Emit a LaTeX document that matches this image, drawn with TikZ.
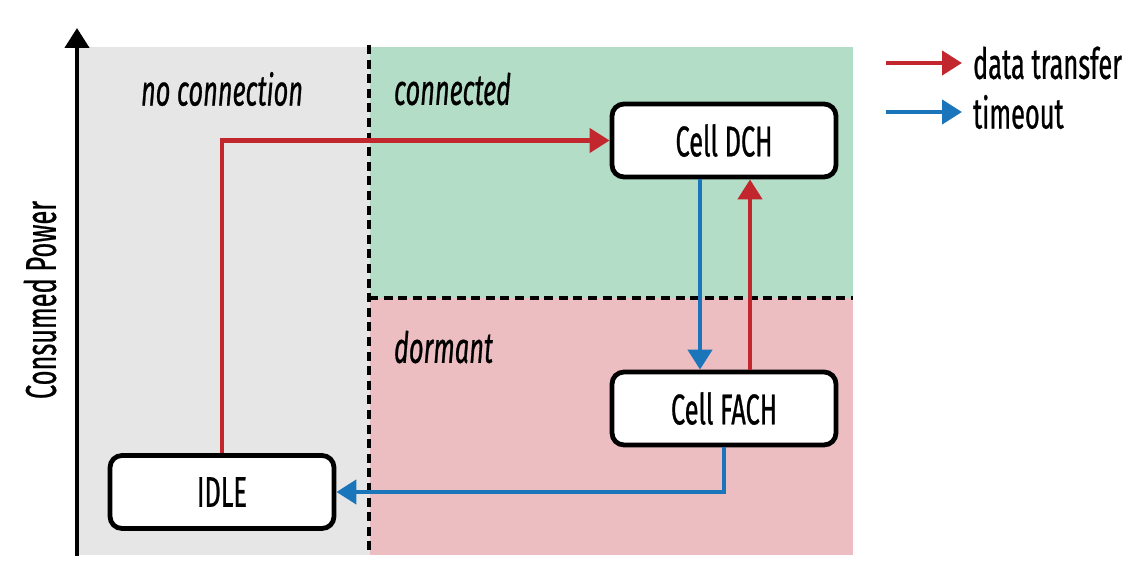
\documentclass[tikz,border=0pt]{standalone}
\usepackage{fontspec}
\setmainfont{Fira Sans}[FakeStretch=0.59,FakeBold=0.6]
\usetikzlibrary{arrows.meta}
\definecolor{cred}{HTML}{C1272D}
\definecolor{cblue}{HTML}{1B75BB}
\definecolor{cgray}{HTML}{E6E6E6}
\definecolor{cgreen}{HTML}{B3DDC7}
\definecolor{cpink}{HTML}{ECBEC1}
\tikzset{
  txt/.style={font=\fontsize{21.5}{24}\selectfont},
  statebox/.style={txt, draw=black, fill=white, line width=2.4pt, rounded corners=6pt,
    minimum width=112pt, minimum height=36.5pt},
  region/.style={font=\fontsize{21.5}{24}\selectfont\itshape},
  tip/.style={-{Triangle[length=10pt,width=12pt]}},
  redarrow/.style={tip, draw=cred, line width=2.2pt},
  bluearrow/.style={tip, draw=cblue, line width=2.2pt},
  divider/.style={draw=black, line width=2.2pt, dash pattern=on 4.5pt off 2.8pt},
}
\begin{document}
\begin{tikzpicture}[x=0.5pt,y=-0.5pt]
\useasboundingbox (0,0) rectangle (1136,576);
% regions
\fill[cgray] (77,47) rectangle (370,555);
\fill[cgreen] (370,47) rectangle (853,298);
\fill[cpink] (370,298) rectangle (853,555);
\draw[divider] (369,45) -- (369,555);
\draw[divider] (369,298) -- (853,298);
% axis
\coordinate (axb) at (77,556);
\coordinate (axt) at (77,28);
\draw[tip, line width=2.2pt] (axb) -- (axt);
\node[rotate=90, txt] (ylab) at (40,300) {Consumed Power};
% region labels
\node[region] (nc) at (222,89) {no connection};
\node[region, anchor=west] (con) at (387,89) {connected};
\node[region, anchor=west] (dor) at (387,347) {dormant};
% states
\node[statebox] (dch) at (724,140.5) {Cell DCH};
\node[statebox] (fach) at (724,408.5) {Cell FACH};
\node[statebox] (idle) at (222,492) {IDLE};
% transitions
\draw[redarrow] (idle.north) |- (dch.west);
\draw[bluearrow] ([xshift=-12pt]dch.south) -- ([xshift=-12pt]fach.north);
\draw[redarrow] ([xshift=13pt]fach.north) -- ([xshift=13pt]dch.south);
\draw[bluearrow] (fach.south) |- (idle.east);
% legend
\coordinate (l1a) at (886,63);
\coordinate (l1b) at (962,63);
\coordinate (l2a) at (886,112);
\coordinate (l2b) at (962,112);
\draw[redarrow] (l1a) -- (l1b);
\draw[bluearrow] (l2a) -- (l2b);
\node[anchor=west, txt] (lt1) at (966,63) {data transfer};
\node[anchor=west, txt] (lt2) at (966,112) {timeout};
\end{tikzpicture}
\end{document}
